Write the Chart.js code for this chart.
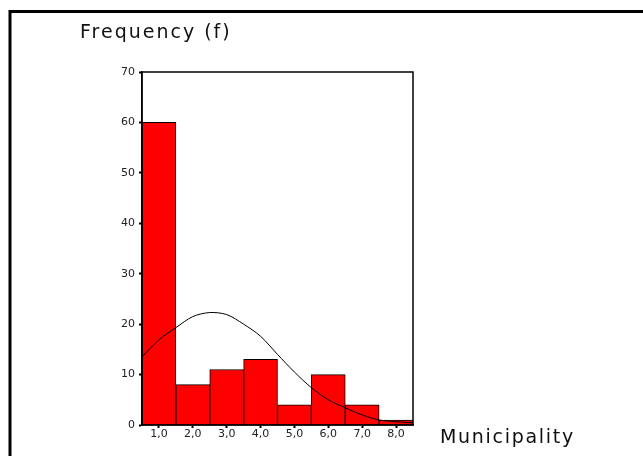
<!DOCTYPE html>
<html>
<head>
<meta charset="utf-8">
<script src="https://cdn.jsdelivr.net/npm/chart.js@4/dist/chart.umd.min.js"></script>
<style>
  html, body { margin: 0; padding: 0; background: #fff; }
  #wrap { position: relative; width: 643px; height: 456px; }
</style>
</head>
<body>
<div id="wrap"><canvas id="chart" width="643" height="456"></canvas></div>
<script>
// histogram bins (municipality) and their counts
const binLabels = ["1,0", "2,0", "3,0", "4,0", "5,0", "6,0", "7,0", "8,0"];
const frequencies = [60, 8, 11, 13, 4, 10, 4, 1];

// fitted curve at half-bin steps
const curveX = [0.5, 1.0, 1.5, 2.0, 2.5, 3.0, 3.5, 4.0, 4.5, 5.0, 5.5, 6.0, 6.5, 7.0, 7.5, 8.0, 8.5];
const curveY = [13.5, 16.9, 19.3, 21.5, 22.3, 21.9, 20.0, 17.6, 14.0, 10.5, 7.4, 5.0, 3.4, 2.0, 1.0, 0.65, 0.45];

const yTitle = "Frequency (f)";
const xTitle = "Municipality";

// outer frame, plot box and the two axis titles
const framePlugin = {
    id: "frame",
    beforeDraw(chart) {
        const ctx = chart.ctx;
        ctx.save();
        ctx.fillStyle = "#fff";
        ctx.fillRect(0, 0, chart.width, chart.height);
        ctx.strokeStyle = "#000";
        ctx.lineWidth = 3;
        ctx.beginPath();
        ctx.moveTo(chart.width, 11.5);
        ctx.lineTo(10, 11.5);
        ctx.lineTo(10, chart.height);
        ctx.stroke();
        ctx.restore();
    },
    afterDraw(chart) {
        const ctx = chart.ctx;
        const a = chart.chartArea;
        ctx.save();
        ctx.strokeStyle = "#000";
        ctx.lineWidth = 1.5;
        ctx.strokeRect(a.left, a.top, a.right - a.left, a.bottom - a.top);

        ctx.fillStyle = "#111";
        ctx.textBaseline = "alphabetic";
        ctx.textAlign = "left";
        ctx.font = "19px 'DejaVu Sans'";
        ctx.letterSpacing = "2px";
        ctx.fillText(yTitle, 80, 38);
        ctx.font = "19px 'DejaVu Sans'";
        ctx.letterSpacing = "1.7px";
        ctx.fillText(xTitle, a.right + 27, 443);
        ctx.restore();
    }
};

new Chart(document.getElementById("chart"), {
    type: "bar",
    data: {
        labels: binLabels,
        datasets: [
            {
                type: "line",
                label: "Normal",
                xAxisID: "xCurve",
                order: 0,
                data: curveX.map((x, i) => ({ x: x, y: curveY[i] })),
                borderColor: "#000",
                borderWidth: 1,
                pointRadius: 0,
                tension: 0.3,
                fill: false
            },
            {
                type: "bar",
                label: "Frequency",
                order: 1,
                data: frequencies,
                backgroundColor: "#ff0000",
                borderColor: "#000",
                borderWidth: 1,
                grouped: false,
                barPercentage: 1,
                categoryPercentage: 1
            }
        ]
    },
    options: {
        responsive: false,
        animation: false,
        layout: {
            padding: { left: 112, right: 230, top: 72, bottom: 11 }
        },
        plugins: {
            legend: { display: false },
            tooltip: { enabled: false }
        },
        scales: {
            x: {
                type: "category",
                offset: true,
                grid: {
                    offset: false,
                    drawOnChartArea: false,
                    tickLength: 3,
                    tickColor: "#000",
                    tickWidth: 2
                },
                border: { color: "#000", width: 1.5 },
                ticks: {
                    color: "#222",
                    padding: 0,
                    maxRotation: 0,
                    font: { family: "'DejaVu Sans'", size: 11 }
                },
                afterFit(scale) { scale.height = 20; }
            },
            xCurve: {
                type: "linear",
                display: false,
                offset: false,
                min: 0.5,
                max: 8.5
            },
            y: {
                min: 0,
                max: 70,
                ticks: {
                    stepSize: 10,
                    color: "#222",
                    padding: 4,
                    font: { family: "'DejaVu Sans'", size: 11 }
                },
                grid: {
                    drawOnChartArea: false,
                    tickLength: 3,
                    tickColor: "#000",
                    tickWidth: 2
                },
                border: { color: "#000", width: 1.5 },
                afterFit(scale) { scale.width = 30; }
            }
        }
    },
    plugins: [framePlugin]
});
</script>
</body>
</html>
